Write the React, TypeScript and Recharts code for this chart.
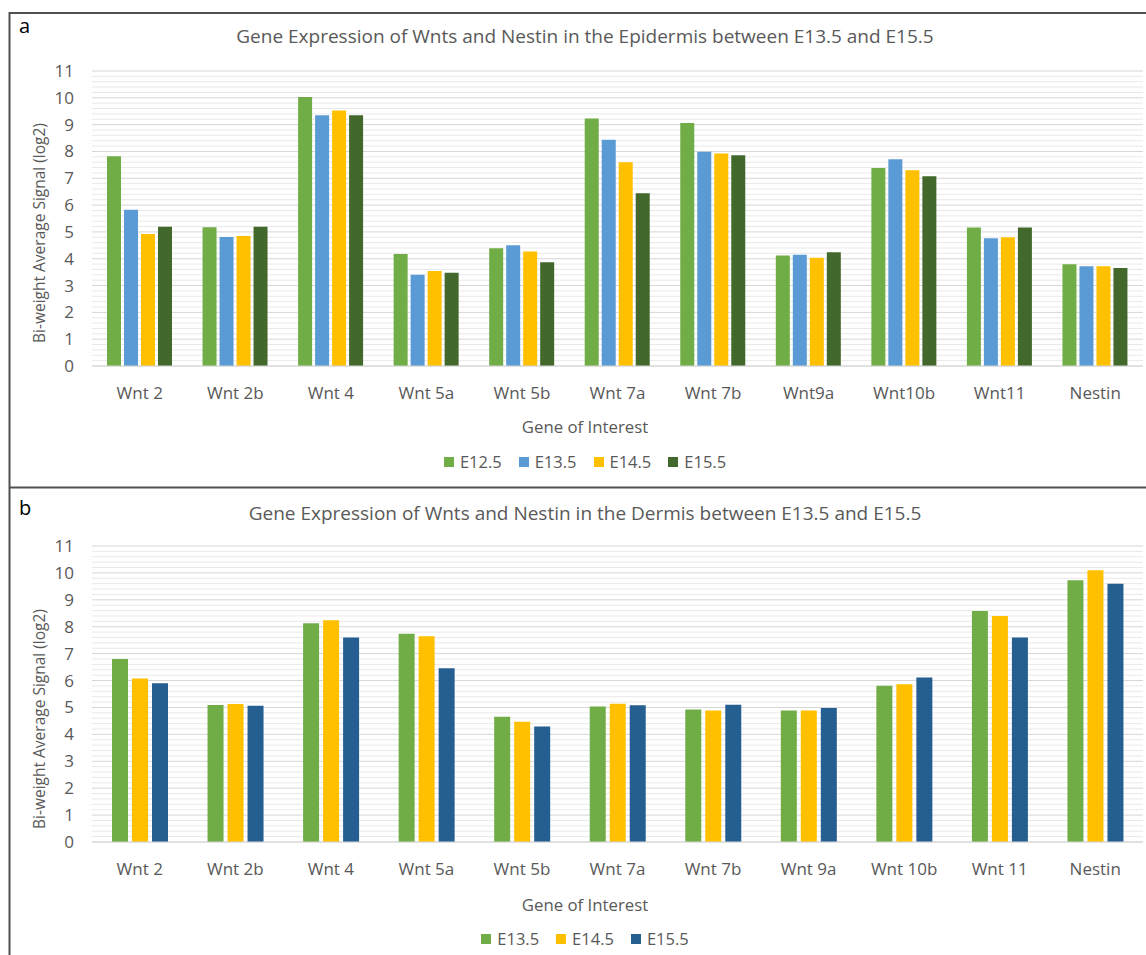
import React from 'react';
import { BarChart, Bar, XAxis, YAxis, CartesianGrid, Legend, ReferenceLine } from 'recharts';

const categoriesA = ['Wnt 2', 'Wnt 2b', 'Wnt 4', 'Wnt 5a', 'Wnt 5b', 'Wnt 7a', 'Wnt 7b', 'Wnt9a', 'Wnt10b', 'Wnt11', 'Nestin'];
const e125A = [7.82, 5.17, 10.03, 4.18, 4.39, 9.23, 9.06, 4.12, 7.38, 5.16, 3.79];
const e135A = [5.83, 4.81, 9.35, 3.40, 4.50, 8.44, 7.99, 4.15, 7.71, 4.76, 3.72];
const e145A = [4.92, 4.85, 9.53, 3.54, 4.27, 7.60, 7.92, 4.04, 7.30, 4.80, 3.72];
const e155A = [5.19, 5.19, 9.35, 3.48, 3.87, 6.44, 7.86, 4.24, 7.08, 5.16, 3.65];

const categoriesB = ['Wnt 2', 'Wnt 2b', 'Wnt 4', 'Wnt 5a', 'Wnt 5b', 'Wnt 7a', 'Wnt 7b', 'Wnt 9a', 'Wnt 10b', 'Wnt 11', 'Nestin'];
const e135B = [6.80, 5.09, 8.13, 7.74, 4.65, 5.04, 4.92, 4.89, 5.81, 8.58, 9.73];
const e145B = [6.08, 5.13, 8.24, 7.65, 4.47, 5.14, 4.89, 4.89, 5.86, 8.40, 10.10];
const e155B = [5.90, 5.06, 7.60, 6.46, 4.29, 5.08, 5.10, 4.98, 6.11, 7.60, 9.60];

const Y_MAX = 11;
const majorTicks = [0, 1, 2, 3, 4, 5, 6, 7, 8, 9, 10, 11];
const allGridTicks = Array.from({ length: 56 }, (_, i) => Math.round(i * 0.2 * 10) / 10);
const minorTicks = allGridTicks.filter((t) => t % 1 !== 0);

const dataA = categoriesA.map((name, i) => ({ name, e125: e125A[i], e135: e135A[i], e145: e145A[i], e155: e155A[i] }));
const dataB = categoriesB.map((name, i) => ({ name, e135: e135B[i], e145: e145B[i], e155: e155B[i] }));

const GRAY = '#595959';
const MAJOR = '#d6d6d6';
const MINOR = '#e9e9e9';

const CHART_W = 1146;
const Y_AXIS_W = 60;
const X_AXIS_H = 30;

// panel b layout (minor grid drawn underneath the chart's transparent surface)
const B_TOP = 488;
const B_H = 467;
const B_MARGIN = { top: 58, right: 3, bottom: 83, left: 32 };
const B_PLOT_H = B_H - B_MARGIN.top - B_MARGIN.bottom - X_AXIS_H;
const B_PLOT_X1 = B_MARGIN.left + Y_AXIS_W;
const B_PLOT_X2 = CHART_W - B_MARGIN.right;
const yB = (t: number) => B_MARGIN.top + ((Y_MAX - t) / Y_MAX) * B_PLOT_H;

const renderLegend = (props: any) => {
  const { payload } = props;
  return (
    <div style={{ display: 'flex', justifyContent: 'center', gap: 17 }}>
      {(payload || []).map((p: any) => (
        <div key={p.value} style={{ display: 'flex', alignItems: 'center' }}>
          <span style={{ display: 'inline-block', width: 10, height: 10, background: p.color, marginRight: 6 }} />
          <span style={{ color: GRAY, fontSize: 16.5, lineHeight: '22px' }}>{p.value}</span>
        </div>
      ))}
    </div>
  );
};

const tickStyle = { fill: GRAY, fontSize: 17 };

const minorLines = (prefix: string) =>
  minorTicks.map((t) => (
    <ReferenceLine key={prefix + t} y={t} stroke={MINOR} strokeWidth={1} zIndex={-100} />
  ));

export default function App() {
  return (
    <div style={{ position: 'absolute', left: 0, top: 0, width: 1146, height: 955, overflow: 'hidden', background: '#fff', fontFamily: "'Open Sans', sans-serif" }}>
      <div style={{ position: 'absolute', left: 0, top: 0 }}>
        <BarChart width={CHART_W} height={487} data={dataA} margin={{ top: 71, right: 3, bottom: 91, left: 32 }} barSize={14} barGap={3}>
          <CartesianGrid vertical={false} stroke={MAJOR} />
          {minorLines('a')}
          <XAxis dataKey="name" tickLine={false} axisLine={{ stroke: MAJOR }} tickSize={0} tickMargin={21} tick={tickStyle} interval={0} height={X_AXIS_H} />
          <YAxis domain={[0, Y_MAX]} ticks={majorTicks} interval={0} tickLine={false} axisLine={false} width={Y_AXIS_W} tickSize={0} tickMargin={18} tick={tickStyle} />
          <Legend verticalAlign="middle" wrapperStyle={{ top: 451, left: 0, width: 1170 }} content={renderLegend} />
          <Bar dataKey="e125" name="E12.5" fill="#70AD47" isAnimationActive={false} />
          <Bar dataKey="e135" name="E13.5" fill="#5B9BD5" isAnimationActive={false} />
          <Bar dataKey="e145" name="E14.5" fill="#FFC000" isAnimationActive={false} />
          <Bar dataKey="e155" name="E15.5" fill="#43682B" isAnimationActive={false} />
        </BarChart>
      </div>
      <svg width={CHART_W} height={B_H} style={{ position: 'absolute', left: 0, top: B_TOP }}>
        {minorTicks.map((t) => (
          <line key={'bm' + t} x1={B_PLOT_X1} x2={B_PLOT_X2} y1={yB(t)} y2={yB(t)} stroke={MINOR} strokeWidth={1} />
        ))}
      </svg>
      <div style={{ position: 'absolute', left: 0, top: B_TOP }}>
        <BarChart width={CHART_W} height={B_H} data={dataB} margin={B_MARGIN} barSize={16} barGap={4}>
          <CartesianGrid vertical={false} stroke={MAJOR} />
          <XAxis dataKey="name" tickLine={false} axisLine={{ stroke: MAJOR }} tickSize={0} tickMargin={21} tick={tickStyle} interval={0} height={X_AXIS_H} />
          <YAxis domain={[0, Y_MAX]} ticks={majorTicks} interval={0} tickLine={false} axisLine={false} width={Y_AXIS_W} tickSize={0} tickMargin={18} tick={tickStyle} />
          <Legend verticalAlign="middle" wrapperStyle={{ top: 440, left: 0, width: 1170 }} content={renderLegend} />
          <Bar dataKey="e135" name="E13.5" fill="#70AD47" isAnimationActive={false} />
          <Bar dataKey="e145" name="E14.5" fill="#FFC000" isAnimationActive={false} />
          <Bar dataKey="e155" name="E15.5" fill="#255E91" isAnimationActive={false} />
        </BarChart>
      </div>
      <svg width={1146} height={955} style={{ position: 'absolute', left: 0, top: 0, pointerEvents: 'none' }}>
        <line x1={9.5} y1={13} x2={1146} y2={13} stroke="#505050" strokeWidth={2} />
        <line x1={9.5} y1={12} x2={9.5} y2={955} stroke="#505050" strokeWidth={2} />
        <line x1={9.5} y1={487.5} x2={1146} y2={487.5} stroke="#505050" strokeWidth={2} />
        <text x={19} y={33} fontSize={20} fill="#000">a</text>
        <text x={19} y={515} fontSize={20} fill="#000">b</text>
        <text x={585} y={43} fontSize={19} fill={GRAY} textAnchor="middle">Gene Expression of Wnts and Nestin in the Epidermis between E13.5 and E15.5</text>
        <text x={585} y={519.5} fontSize={19} fill={GRAY} textAnchor="middle">Gene Expression of Wnts and Nestin in the Dermis between E13.5 and E15.5</text>
        <text x={45} y={233} fontSize={15.5} fill={GRAY} textAnchor="middle" transform="rotate(-90 45 233)">Bi-weight Average Signal (log2)</text>
        <text x={45} y={719} fontSize={15.5} fill={GRAY} textAnchor="middle" transform="rotate(-90 45 719)">Bi-weight Average Signal (log2)</text>
        <text x={585} y={433} fontSize={16.8} fill={GRAY} textAnchor="middle">Gene of Interest</text>
        <text x={585} y={911} fontSize={16.8} fill={GRAY} textAnchor="middle">Gene of Interest</text>
      </svg>
    </div>
  );
}
